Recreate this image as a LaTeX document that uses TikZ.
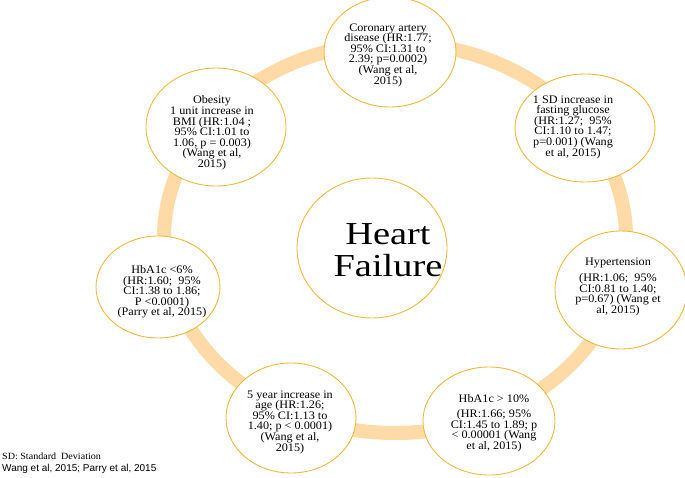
\documentclass[tikz,border=0pt]{standalone}
\usepackage{fontspec}
\setmainfont{Liberation Serif}[FakeStretch=1.06]
\newfontfamily\hffont{Liberation Serif}[FakeStretch=1.2]
\newfontfamily\arialf{Liberation Sans}
\usetikzlibrary{shapes.geometric}
\definecolor{ringc}{RGB}{253,218,166}
\definecolor{edgec}{RGB}{240,185,60}
\tikzset{
  ringline/.style={draw=ringc, line width=14pt},
  bub/.style={ellipse, draw=edgec, line width=0.9pt, fill=white, inner sep=0pt},
  lbl/.style={align=center, inner sep=0pt, font=\fontsize{11.5}{10.6}\selectfont},
  hflbl/.style={align=center, inner sep=0pt, font=\hffont\fontsize{32}{32}\selectfont},
  note/.style={anchor=base west, inner sep=0pt}
}
\begin{document}
\begin{tikzpicture}[x=1pt,y=-1pt]
\useasboundingbox (0,0) rectangle (685,478);
\fill[white] (0,0) rectangle (685,478);
% ring
\draw[ringline] (395,238) ellipse [x radius=231pt, y radius=195pt];
% bubbles
\node[bub, minimum width=132pt, minimum height=110pt] (cor) at (390,52) {};
\node[bub, minimum width=140pt, minimum height=108pt] (glu) at (585,128) {};
\node[bub, minimum width=132pt, minimum height=118pt] (hyp) at (621,290) {};
\node[bub, minimum width=132pt, minimum height=108pt] (h10) at (489,421) {};
\node[bub, minimum width=130pt, minimum height=110pt] (age) at (291,418) {};
\node[bub, minimum width=124pt, minimum height=102pt] (h6) at (158,287) {};
\node[bub, minimum width=140pt, minimum height=118pt] (obe) at (216,127) {};
\node[bub, minimum width=150pt, minimum height=140pt] (hf) at (372,248) {};
% texts
\node[lbl] (cort) at (388,55) {Coronary artery\\disease (HR:1.77;\\95\% CI:1.31 to\\2.39; p=0.0002)\\(Wang et al,\\2015)};
\node[lbl] (glut) at (573,127) {1 SD increase in\\fasting glucose\\(HR:1.27;\ \ 95\%\\CI:1.10 to 1.47;\\p=0.001) (Wang\\et al, 2015)};
\node[lbl] (hypt) at (618,287) {Hypertension\\[5pt](HR:1.06;\ \ 95\%\\CI:0.81 to 1.40;\\p=0.67) (Wang et\\al, 2015)};
\node[lbl] (h10t) at (494,423) {HbA1c > 10\%\\[5pt](HR:1.66; 95\%\\CI:1.45 to 1.89; p\\< 0.00001 (Wang\\et al, 2015)};
\node[lbl] (aget) at (290,422) {5 year increase in\\age (HR:1.26;\\95\% CI:1.13 to\\1.40; p < 0.0001)\\(Wang et al,\\2015)};
\node[lbl] (h6t) at (162,292) {HbA1c <6\%\\(HR:1.60;\ \ 95\%\\CI:1.38 to 1.86;\\P <0.0001)\\(Parry et al, 2015)};
\node[lbl] (obet) at (212,133) {Obesity\\1 unit increase in\\BMI (HR:1.04 ;\\95\% CI:1.01 to\\1.06, p = 0.003)\\(Wang et al,\\2015)};
\node[hflbl] (hft) at (388,250) {Heart\\Failure};
% footnotes
\node[note, font=\fontsize{9.5}{10}\selectfont] (sd) at (2,459) {SD: Standard\ \ Deviation};
\node[note, font=\arialf\fontsize{10}{11}\selectfont] (refs) at (2,471) {Wang et al, 2015; Parry et al, 2015};
\end{tikzpicture}
\end{document}
